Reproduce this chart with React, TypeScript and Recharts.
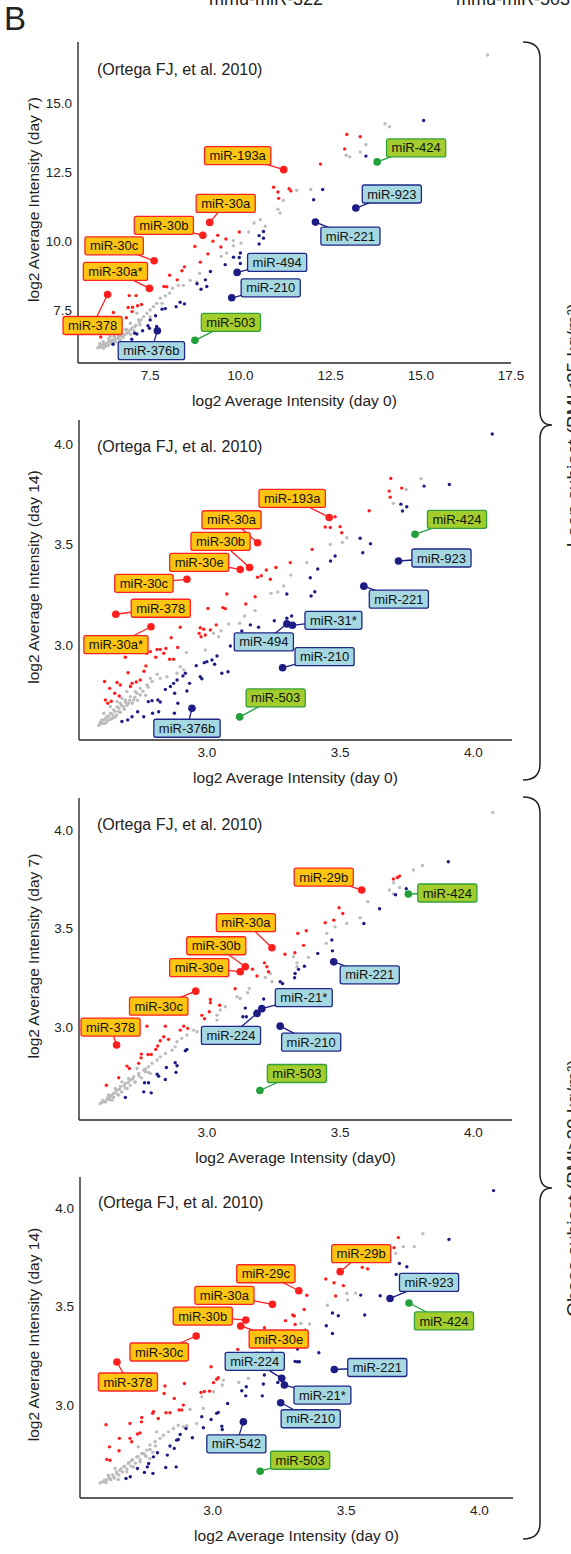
import React from 'react';
import { ScatterChart, Scatter, XAxis, YAxis, Label } from 'recharts';

const FONT = '"Liberation Sans", Arial, Helvetica, sans-serif';

type Pt = [number, number];
type Group = 'up' | 'down' | 'target';
type Marked = { name: string; x: number; y: number; group: Group };

// ---------- panel 1: day 7 vs day 0 (lean) ----------
const p1Grey: Pt[] = [
  [16.85, 16.73], [14.01, 14.24], [14.13, 14.13], [13.48, 13.48], [13.32, 13.22], [12.93, 13.1], [13.03, 13.04],
  [11.56, 11.83], [11.95, 11.86], [11.19, 11.46], [11.04, 11.15], [11.1, 11.01], [10.38, 10.65], [10.55, 10.77],
  [10.69, 10.53], [10.23, 10.32], [9.8, 10.01], [10.02, 9.92], [9.81, 9.82], [9.62, 9.56], [9.47, 9.44],
  [8.87, 8.83], [8.61, 8.57], [8.79, 8.51], [8.42, 8.39], [8.28, 8.39], [8.12, 8.29], [8.04, 8.11], [7.92, 8.01],
  [7.78, 7.93], [7.68, 7.74], [7.59, 7.62], [7.5, 7.5], [7.41, 7.38], [7.32, 7.26], [7.18, 7.14], [7.22, 6.96],
  [7.08, 6.9], [6.95, 6.78], [6.85, 6.66], [6.76, 6.6], [6.62, 6.54], [6.53, 6.48], [6.44, 6.41], [6.35, 6.35],
  [6.25, 6.27], [6.16, 6.2], [6.07, 6.15], [6.21, 6.11], [6.35, 6.23], [6.48, 6.29], [6.67, 6.41], [7.13, 7.38],
  [7.5, 7.26], [7.83, 7.74], [6.81, 6.78], [6.11, 6.29], [6.39, 6.54], [6.58, 6.66], [6.95, 7.02],
  [6.05, 6.13], [6.1, 6.2], [6.15, 6.15], [6.2, 6.25], [6.25, 6.18], [6.3, 6.3], [6.3, 6.2], [6.4, 6.35],
  [6.45, 6.28], [6.5, 6.4], [6.55, 6.35], [6.6, 6.48], [6.65, 6.42], [6.7, 6.55], [6.75, 6.5], [6.8, 6.6],
  [6.9, 6.7], [6.95, 6.62], [7.0, 6.85], [7.05, 6.75], [7.1, 6.95], [7.2, 7.05], [7.25, 7.15], [6.2, 6.35],
  [6.35, 6.45], [6.5, 6.55], [6.65, 6.6], [6.85, 6.8],
];
const p1Up: Pt[] = [
  [12.95, 13.85], [13.32, 13.77], [12.89, 13.33], [12.22, 12.78], [10.92, 11.94], [11.04, 11.77], [11.35, 11.89],
  [11.4, 11.81], [11.06, 11.54], [9.97, 10.32], [9.37, 10.2], [9.6, 10.07], [9.24, 9.99], [8.74, 9.8], [9.46, 9.78],
  [9.1, 9.53], [8.89, 9.23], [8.45, 9.06], [8.38, 8.92], [8.04, 8.76], [8.25, 8.59], [7.88, 8.35], [7.96, 8.34],
  [6.92, 8.02], [7.11, 8.02], [6.89, 7.59], [7.01, 7.6], [7.15, 7.65], [7.26, 7.7], [7.0, 7.44], [6.84, 7.22],
  [6.48, 7.41], [6.13, 6.52],
];
const p1Down: Pt[] = [
  [15.08, 14.36], [13.48, 13.07], [12.28, 11.86], [12.03, 11.49], [10.64, 10.34], [10.52, 10.19], [10.64, 10.1],
  [10.52, 9.89], [10.0, 9.56], [9.97, 9.4], [9.81, 9.41], [10.0, 9.18], [9.58, 9.14], [9.17, 8.89], [9.03, 8.59],
  [8.8, 8.45], [9.07, 8.35], [8.91, 8.25], [8.45, 7.72], [8.33, 7.78], [8.22, 7.62], [7.92, 7.55], [7.83, 7.53],
  [7.65, 7.29], [7.5, 7.14], [7.44, 6.93], [7.48, 6.84], [7.29, 6.75], [7.13, 6.63], [7.07, 6.66], [6.99, 6.44],
  [6.47, 6.26], [7.68, 6.9],
];
const p1Marked: Marked[] = [
  { name: 'miR-193a', x: 11.2, y: 12.58, group: 'up' },
  { name: 'miR-30a', x: 9.15, y: 10.67, group: 'up' },
  { name: 'miR-30b', x: 8.96, y: 10.2, group: 'up' },
  { name: 'miR-30c', x: 7.61, y: 9.28, group: 'up' },
  { name: 'miR-30a*', x: 7.48, y: 8.28, group: 'up' },
  { name: 'miR-378', x: 6.32, y: 8.06, group: 'up' },
  { name: 'miR-376b', x: 7.7, y: 6.75, group: 'down' },
  { name: 'miR-210', x: 9.76, y: 7.94, group: 'down' },
  { name: 'miR-494', x: 9.91, y: 8.86, group: 'down' },
  { name: 'miR-221', x: 12.08, y: 10.68, group: 'down' },
  { name: 'miR-923', x: 13.2, y: 11.19, group: 'down' },
  { name: 'miR-503', x: 8.74, y: 6.4, group: 'target' },
  { name: 'miR-424', x: 13.79, y: 12.86, group: 'target' },
];

// ---------- panel 2: day 14 vs day 0 (lean) ----------
const p2Grey: Pt[] = [
  [3.804, 3.828], [3.748, 3.774], [3.7, 3.705], [3.525, 3.534], [3.509, 3.511], [3.463, 3.501], [3.375, 3.41],
  [3.315, 3.348], [3.288, 3.294], [3.266, 3.264], [3.241, 3.257], [3.181, 3.171], [3.141, 3.144], [3.123, 3.108],
  [3.081, 3.105], [3.053, 3.071], [3.044, 3.041], [3.025, 3.058], [2.923, 2.962], [2.994, 2.975], [2.913, 2.876],
  [2.888, 2.859], [2.85, 2.842], [2.813, 2.854], [2.794, 2.818], [2.775, 2.801], [2.75, 2.784], [2.731, 2.768],
  [2.713, 2.743], [2.694, 2.726], [2.675, 2.71], [2.663, 2.693], [2.65, 2.677], [2.638, 2.66], [2.625, 2.643],
  [2.613, 2.627], [2.6, 2.607], [2.594, 2.6], [2.619, 2.61], [2.644, 2.635], [2.669, 2.668], [2.688, 2.693],
  [2.706, 2.71], [2.725, 2.726], [2.75, 2.751], [2.638, 2.693], [2.663, 2.718], [2.681, 2.735], [2.7, 2.768],
  [2.613, 2.66], [2.631, 2.627], [2.656, 2.643], [2.738, 2.76], [2.788, 2.834], [2.825, 2.834], [2.9, 2.892],
  [2.6, 2.615], [2.605, 2.625], [2.61, 2.61], [2.62, 2.635], [2.625, 2.62], [2.63, 2.645], [2.64, 2.63],
  [2.645, 2.655], [2.65, 2.64], [2.655, 2.67], [2.66, 2.65], [2.67, 2.685], [2.675, 2.665], [2.68, 2.7],
  [2.69, 2.68], [2.695, 2.715], [2.7, 2.7], [2.71, 2.725], [2.72, 2.71], [2.73, 2.74], [2.74, 2.725],
  [2.76, 2.77], [2.77, 2.75], [2.78, 2.79],
];
const p2Up: Pt[] = [
  [3.69, 3.829], [3.731, 3.781], [3.684, 3.766], [3.688, 3.736], [3.609, 3.668], [3.481, 3.638], [3.444, 3.587],
  [3.463, 3.585], [3.5, 3.589], [3.506, 3.559], [3.395, 3.476], [3.313, 3.41], [3.259, 3.386], [3.223, 3.373],
  [3.204, 3.345], [3.19, 3.337], [3.238, 3.327], [3.181, 3.24], [3.075, 3.254], [3.06, 3.186], [3.069, 3.181],
  [3.004, 3.182], [3.146, 3.204], [2.9, 3.088], [2.975, 3.086], [2.988, 3.078], [2.971, 3.058], [2.978, 3.041],
  [2.994, 3.05], [3.013, 3.075], [3.035, 3.1], [2.866, 3.036], [2.89, 2.988], [2.846, 2.983], [2.838, 2.959],
  [2.813, 2.978], [2.825, 2.978], [2.86, 2.929], [2.875, 2.929], [2.808, 2.939], [2.788, 2.967], [2.775, 2.959],
  [2.694, 2.939], [2.771, 2.896], [2.764, 2.869], [2.704, 2.862], [2.75, 2.826], [2.735, 2.816], [2.719, 2.809],
  [2.713, 2.793], [2.663, 2.813], [2.675, 2.801], [2.616, 2.818], [2.654, 2.76], [2.635, 2.784], [2.671, 2.746],
  [2.641, 2.72], [2.628, 2.71], [2.619, 2.726],
];
const p2Down: Pt[] = [
  [4.071, 4.05], [3.91, 3.799], [3.815, 3.791], [3.728, 3.701], [3.75, 3.688], [3.734, 3.667], [3.575, 3.531],
  [3.614, 3.504], [3.585, 3.459], [3.481, 3.443], [3.464, 3.418], [3.416, 3.378], [3.388, 3.335], [3.405, 3.265],
  [3.391, 3.244], [3.3, 3.254], [3.318, 3.144], [3.253, 3.121], [3.3, 3.133], [3.194, 3.088], [3.163, 3.1],
  [3.131, 3.07], [3.154, 3.036], [3.088, 2.995], [3.038, 2.945], [3.019, 2.925], [3.0, 2.917], [2.99, 2.912],
  [3.029, 2.904], [2.96, 2.897], [2.975, 2.842], [2.981, 2.832], [3.079, 2.867], [3.056, 2.859], [2.919, 2.859],
  [2.91, 2.846], [2.888, 2.826], [2.875, 2.809], [2.863, 2.793], [2.844, 2.779], [2.879, 2.76], [2.925, 2.771],
  [2.935, 2.809], [2.891, 2.71], [2.816, 2.726], [2.825, 2.716], [2.794, 2.723], [2.78, 2.718], [2.74, 2.668],
  [2.763, 2.643], [2.796, 2.66], [2.819, 2.668], [2.878, 2.66], [2.719, 2.643], [2.703, 2.627], [2.681, 2.619],
];
const p2Marked: Marked[] = [
  { name: 'miR-193a', x: 3.459, y: 3.635, group: 'up' },
  { name: 'miR-30a', x: 3.19, y: 3.509, group: 'up' },
  { name: 'miR-30b', x: 3.16, y: 3.386, group: 'up' },
  { name: 'miR-30e', x: 3.125, y: 3.376, group: 'up' },
  { name: 'miR-30c', x: 2.925, y: 3.327, group: 'up' },
  { name: 'miR-378', x: 2.658, y: 3.153, group: 'up' },
  { name: 'miR-30a*', x: 2.79, y: 3.091, group: 'up' },
  { name: 'miR-376b', x: 2.944, y: 2.685, group: 'down' },
  { name: 'miR-494', x: 3.3, y: 3.105, group: 'down' },
  { name: 'miR-31*', x: 3.321, y: 3.098, group: 'down' },
  { name: 'miR-210', x: 3.284, y: 2.887, group: 'down' },
  { name: 'miR-221', x: 3.589, y: 3.293, group: 'down' },
  { name: 'miR-923', x: 3.719, y: 3.418, group: 'down' },
  { name: 'miR-503', x: 3.123, y: 2.642, group: 'target' },
  { name: 'miR-424', x: 3.781, y: 3.551, group: 'target' },
];

// ---------- panel 3: day 7 vs day 0 (obese) ----------
const p3Grey: Pt[] = [
  [4.073, 4.09], [3.809, 3.82], [3.775, 3.797], [3.701, 3.732], [3.685, 3.695], [3.7, 3.675], [3.723, 3.708],
  [3.604, 3.636], [3.575, 3.554], [3.525, 3.525], [3.481, 3.508], [3.45, 3.475], [3.448, 3.424], [3.381, 3.353],
  [3.338, 3.325], [3.338, 3.305], [3.325, 3.356], [3.238, 3.271], [3.244, 3.229], [3.219, 3.251], [3.159, 3.195],
  [3.153, 3.173], [3.113, 3.153], [3.125, 3.144], [3.069, 3.102], [3.05, 3.085], [3.038, 3.059], [3.038, 3.034],
  [2.963, 2.975], [2.95, 2.983], [2.925, 2.958], [2.906, 2.941], [2.888, 2.924], [2.881, 2.898], [2.869, 2.881],
  [2.844, 2.864], [2.825, 2.847], [2.813, 2.831], [2.794, 2.814], [2.781, 2.797], [2.763, 2.78], [2.744, 2.763],
  [2.725, 2.746], [2.713, 2.729], [2.694, 2.712], [2.675, 2.695], [2.663, 2.678], [2.65, 2.661], [2.638, 2.644],
  [2.625, 2.631], [2.613, 2.619], [2.6, 2.61], [2.631, 2.653], [2.656, 2.686], [2.681, 2.72], [2.706, 2.737],
  [2.738, 2.788], [2.769, 2.771], [2.788, 2.763], [2.731, 2.72], [2.7, 2.686], [2.669, 2.653], [2.644, 2.627],
  [2.605, 2.615], [2.61, 2.625], [2.62, 2.618], [2.628, 2.64], [2.635, 2.63], [2.642, 2.652], [2.65, 2.642],
  [2.658, 2.668], [2.665, 2.655], [2.672, 2.682], [2.68, 2.668], [2.688, 2.7], [2.695, 2.688], [2.705, 2.718],
  [2.712, 2.702], [2.722, 2.735], [2.73, 2.718], [2.745, 2.75], [2.755, 2.74], [2.77, 2.785], [2.78, 2.768],
];
const p3Up: Pt[] = [
  [3.7, 3.751], [3.715, 3.759], [3.723, 3.766], [3.496, 3.605], [3.51, 3.576], [3.444, 3.529], [3.476, 3.542],
  [3.341, 3.475], [3.373, 3.488], [3.363, 3.414], [3.293, 3.369], [3.33, 3.376], [3.216, 3.325], [3.225, 3.305],
  [3.231, 3.28], [3.171, 3.293], [3.188, 3.258], [3.106, 3.193], [3.013, 3.139], [3.013, 3.122], [3.048, 3.11],
  [3.009, 3.076], [2.981, 3.058], [2.991, 3.041], [2.913, 3.003], [2.928, 2.992], [2.9, 2.983], [2.844, 3.003],
  [2.775, 3.003], [2.838, 2.949], [2.856, 2.936], [2.825, 2.929], [2.815, 2.902], [2.808, 2.885], [2.791, 2.859],
  [2.754, 2.861], [2.753, 2.842], [2.779, 2.859], [2.744, 2.814], [2.7, 2.8], [2.709, 2.788], [2.669, 2.741],
  [2.623, 2.703],
];
const p3Down: Pt[] = [
  [3.906, 3.839], [3.748, 3.702], [3.708, 3.671], [3.648, 3.6], [3.589, 3.525], [3.469, 3.441], [3.471, 3.386],
  [3.416, 3.373], [3.366, 3.308], [3.344, 3.292], [3.331, 3.271], [3.329, 3.249], [3.284, 3.22], [3.275, 3.229],
  [3.213, 3.141], [3.144, 3.095], [3.135, 3.051], [3.148, 3.051], [2.925, 2.885], [2.919, 2.878], [2.881, 2.817],
  [2.888, 2.802], [2.848, 2.793], [2.844, 2.732], [2.813, 2.759], [2.819, 2.749], [2.884, 2.768], [2.766, 2.715],
  [2.781, 2.715], [2.763, 2.669], [2.791, 2.664], [2.694, 2.641],
];
const p3Marked: Marked[] = [
  { name: 'miR-29b', x: 3.581, y: 3.695, group: 'up' },
  { name: 'miR-30a', x: 3.244, y: 3.402, group: 'up' },
  { name: 'miR-30b', x: 3.144, y: 3.305, group: 'up' },
  { name: 'miR-30e', x: 3.125, y: 3.28, group: 'up' },
  { name: 'miR-30c', x: 2.958, y: 3.181, group: 'up' },
  { name: 'miR-378', x: 2.661, y: 2.907, group: 'up' },
  { name: 'miR-221', x: 3.476, y: 3.33, group: 'down' },
  { name: 'miR-21*', x: 3.206, y: 3.092, group: 'down' },
  { name: 'miR-224', x: 3.188, y: 3.068, group: 'down' },
  { name: 'miR-210', x: 3.275, y: 3.003, group: 'down' },
  { name: 'miR-424', x: 3.756, y: 3.675, group: 'target' },
  { name: 'miR-503', x: 3.199, y: 2.676, group: 'target' },
];

// ---------- panel 4: day 14 vs day 0 (obese) ----------
const p4Grey: Pt[] = [
  [3.788, 3.871], [3.756, 3.805], [3.715, 3.805], [3.686, 3.771], [3.536, 3.569], [3.503, 3.568], [3.506, 3.534],
  [3.43, 3.507], [3.363, 3.412], [3.331, 3.415], [3.346, 3.385], [3.225, 3.278], [3.165, 3.268], [3.134, 3.136],
  [3.098, 3.115], [3.04, 3.127], [3.036, 3.102], [3.003, 3.068], [2.965, 2.983], [2.959, 3.042], [2.915, 2.978],
  [2.903, 2.895], [2.89, 2.89], [2.871, 2.898], [2.853, 2.881], [2.834, 2.864], [2.815, 2.847], [2.803, 2.831],
  [2.784, 2.814], [2.765, 2.797], [2.753, 2.771], [2.734, 2.754], [2.715, 2.737], [2.696, 2.72], [2.684, 2.703],
  [2.665, 2.686], [2.653, 2.669], [2.64, 2.653], [2.628, 2.636], [2.615, 2.627], [2.603, 2.619], [2.59, 2.61],
  [2.578, 2.605], [2.646, 2.622], [2.703, 2.686], [2.728, 2.712], [2.765, 2.729], [2.746, 2.746], [2.678, 2.661],
  [2.634, 2.678], [2.609, 2.644], [2.721, 2.788], [2.79, 2.864], [2.94, 2.907],
  [2.585, 2.61], [2.595, 2.62], [2.6, 2.606], [2.61, 2.632], [2.618, 2.62], [2.625, 2.645], [2.632, 2.63],
  [2.64, 2.66], [2.648, 2.645], [2.655, 2.675], [2.662, 2.66], [2.67, 2.69], [2.678, 2.675], [2.686, 2.708],
  [2.694, 2.69], [2.7, 2.722], [2.71, 2.705], [2.72, 2.738], [2.728, 2.722], [2.74, 2.755], [2.75, 2.74],
  [2.765, 2.775], [2.775, 2.76], [2.785, 2.792],
];
const p4Up: Pt[] = [
  [3.696, 3.851], [3.68, 3.8], [3.561, 3.7], [3.581, 3.692], [3.424, 3.641], [3.455, 3.622], [3.49, 3.607],
  [3.461, 3.554], [3.353, 3.558], [3.343, 3.486], [3.3, 3.458], [3.306, 3.453], [3.273, 3.429], [3.309, 3.41],
  [3.194, 3.393], [3.094, 3.283], [2.994, 3.195], [3.021, 3.139], [3.015, 3.131], [2.894, 3.11], [2.969, 3.069],
  [2.956, 3.064], [2.988, 3.071], [3.003, 3.114], [2.821, 3.097], [2.818, 3.059], [2.856, 3.034], [2.89, 3.0],
  [2.884, 2.975], [2.874, 2.975], [2.825, 2.961], [2.84, 2.961], [2.778, 2.966], [2.775, 2.958], [2.734, 2.937],
  [2.733, 2.915], [2.69, 2.907], [2.6, 2.9], [2.796, 2.932], [2.728, 2.859], [2.718, 2.853], [2.69, 2.831],
  [2.696, 2.814], [2.65, 2.831], [2.613, 2.788], [2.649, 2.768], [2.603, 2.724], [2.615, 2.72],
];
const p4Down: Pt[] = [
  [4.053, 4.09], [3.886, 3.842], [3.728, 3.703], [3.7, 3.72], [3.688, 3.664], [3.555, 3.559], [3.628, 3.556],
  [3.57, 3.458], [3.449, 3.468], [3.471, 3.454], [3.426, 3.403], [3.449, 3.364], [3.318, 3.285], [3.318, 3.22],
  [3.309, 3.222], [3.325, 3.22], [3.398, 3.266], [3.194, 3.153], [3.19, 3.107], [3.186, 3.047], [3.126, 3.093],
  [3.124, 3.047], [3.109, 3.073], [3.244, 3.115], [3.056, 3.008], [3.015, 2.958], [3.021, 2.963], [2.959, 2.941],
  [2.965, 2.885], [2.994, 2.927], [3.034, 2.893], [3.036, 2.876], [2.924, 2.834], [2.9, 2.881], [2.878, 2.851],
  [2.871, 2.825], [2.856, 2.78], [2.84, 2.792], [2.865, 2.822], [2.83, 2.746], [2.793, 2.758], [2.778, 2.737],
  [2.76, 2.703], [2.755, 2.686], [2.744, 2.658], [2.718, 2.678], [2.776, 2.653], [2.824, 2.683], [2.863, 2.686],
  [2.691, 2.636], [2.675, 2.627],
];
const p4Marked: Marked[] = [
  { name: 'miR-29b', x: 3.478, y: 3.678, group: 'up' },
  { name: 'miR-29c', x: 3.323, y: 3.581, group: 'up' },
  { name: 'miR-30a', x: 3.224, y: 3.512, group: 'up' },
  { name: 'miR-30b', x: 3.124, y: 3.432, group: 'up' },
  { name: 'miR-30e', x: 3.105, y: 3.402, group: 'up' },
  { name: 'miR-30c', x: 2.938, y: 3.351, group: 'up' },
  { name: 'miR-378', x: 2.641, y: 3.219, group: 'up' },
  { name: 'miR-923', x: 3.665, y: 3.542, group: 'down' },
  { name: 'miR-221', x: 3.456, y: 3.181, group: 'down' },
  { name: 'miR-224', x: 3.259, y: 3.136, group: 'down' },
  { name: 'miR-21*', x: 3.269, y: 3.102, group: 'down' },
  { name: 'miR-210', x: 3.255, y: 3.012, group: 'down' },
  { name: 'miR-542', x: 3.115, y: 2.915, group: 'down' },
  { name: 'miR-424', x: 3.736, y: 3.519, group: 'target' },
  { name: 'miR-503', x: 3.178, y: 2.664, group: 'target' },
];

// label box offsets from the point, in px (layout only)
const p1Offsets: Record<string, Pt> = {
  'miR-193a': [-46, -14], 'miR-30a': [16, -19], 'miR-30b': [-39, -10], 'miR-30c': [-40, -15],
  'miR-30a*': [-34, -17], 'miR-378': [-15, 31], 'miR-376b': [-6, 20], 'miR-503': [36, -18],
  'miR-210': [39, -10], 'miR-494': [40, -10], 'miR-221': [35, 14], 'miR-923': [36, -14], 'miR-424': [39, -14],
};
const p2Offsets: Record<string, Pt> = {
  'miR-193a': [-37, -19], 'miR-30a': [-26, -23], 'miR-30b': [-29, -26], 'miR-30e': [-41, -7],
  'miR-30c': [-43, 4], 'miR-378': [45, -6], 'miR-30a*': [-35, 18], 'miR-376b': [-5, 20], 'miR-503': [36, -19],
  'miR-494': [-23, 18], 'miR-31*': [41, -5], 'miR-210': [42, -11], 'miR-221': [35, 13], 'miR-923': [43, -3],
  'miR-424': [42, -15],
};
const p3Offsets: Record<string, Pt> = {
  'miR-29b': [-38, -13], 'miR-424': [39, -1], 'miR-30a': [-26, -25], 'miR-30b': [-29, -21],
  'miR-30e': [-41, -4], 'miR-30c': [-37, 15], 'miR-378': [-6, -18], 'miR-221': [36, 13], 'miR-21*': [42, -11],
  'miR-224': [-26, 22], 'miR-210': [31, 16], 'miR-503': [37, -17],
};
const p4Offsets: Record<string, Pt> = {
  'miR-29b': [21, -18], 'miR-29c': [-33, -17], 'miR-30a': [-48, -9], 'miR-30b': [-43, -4],
  'miR-30e': [38, 13], 'miR-30c': [-37, 16], 'miR-378': [11, 20], 'miR-923': [39, -16], 'miR-424': [35, 18],
  'miR-221': [43, -2], 'miR-224': [-27, -17], 'miR-21*': [38, 10], 'miR-210': [30, 16], 'miR-542': [-7, 22],
  'miR-503': [40, -11],
};

const DOT = { grey: '#bcbcbc', up: '#ff1e1e', down: '#1c1c84', target: '#21a03c' };
const BOX = {
  up: { fill: '#fdc512', stroke: '#ff2323' },
  down: { fill: '#a6d8e2', stroke: '#1f2787' },
  target: { fill: '#a2cd2c', stroke: '#34a039' },
};

let measureCtx: CanvasRenderingContext2D | null = null;
const textWidth = (s: string) => {
  if (!measureCtx) measureCtx = document.createElement('canvas').getContext('2d');
  if (!measureCtx) return s.length * 7.2;
  measureCtx.font = `13px ${FONT}`;
  return measureCtx.measureText(s).width;
};

const toPts = (arr: Pt[]) => arr.map(([x, y]) => ({ x, y }));

const smallDot = (color: string) => (props: any) => (
  <circle cx={props.cx} cy={props.cy} r={1.7} fill={color} />
);

const markedShape = (offsets: Record<string, Pt>) => (props: any) => {
  const { cx, cy, payload } = props;
  const [dx, dy] = offsets[payload.name] ?? [30, -15];
  const w = textWidth(payload.name) + 10;
  const h = 18;
  const bx = cx + dx;
  const by = cy + dy;
  const g = payload.group as Group;
  return (
    <g>
      <line x1={cx} y1={cy} x2={bx} y2={by} stroke={DOT[g]} strokeWidth={1.3} />
      <circle cx={cx} cy={cy} r={3.8} fill={DOT[g]} />
      <rect x={bx - w / 2} y={by - h / 2} width={w} height={h} rx={2} fill={BOX[g].fill} stroke={BOX[g].stroke} strokeWidth={1.3} />
      <text x={bx} y={by + 4.6} textAnchor="middle" fontSize={13} fontFamily={FONT} fill="#111">
        {payload.name}
      </text>
    </g>
  );
};

type PanelProps = {
  top: number;
  height: number;
  plotLeft: number;
  right: number;
  marginTop: number;
  xDomain: [number, number];
  yDomain: [number, number];
  xTicks: number[];
  yTicks: number[];
  xLabel: string;
  yLabel: string;
  grey: Pt[];
  up: Pt[];
  down: Pt[];
  marked: Marked[];
  offsets: Record<string, Pt>;
};

const tickStyle = { fill: '#222', fontSize: 13.5, fontFamily: FONT };
const axisLine = { stroke: '#2a2a2a', strokeWidth: 1.4 };

function Panel(p: PanelProps) {
  return (
    <div style={{ position: 'absolute', left: 0, top: p.top }}>
      <ScatterChart width={571} height={p.height} margin={{ top: p.marginTop, right: p.right, bottom: 0, left: 0 }}>
        <XAxis
          type="number"
          dataKey="x"
          domain={p.xDomain}
          ticks={p.xTicks}
          tickFormatter={(v: number) => v.toFixed(1)}
          height={50}
          tickLine={false}
          tickSize={5}
          tickMargin={2}
          axisLine={axisLine}
          tick={tickStyle}
        >
          <Label
            content={(lp: any) => (
              <text
                x={lp.viewBox.x + lp.viewBox.width / 2}
                y={lp.viewBox.y + 43}
                textAnchor="middle"
                fontSize={15.5}
                fontFamily={FONT}
                fill="#222"
              >
                {p.xLabel}
              </text>
            )}
          />
        </XAxis>
        <YAxis
          type="number"
          dataKey="y"
          domain={p.yDomain}
          ticks={p.yTicks}
          tickFormatter={(v: number) => v.toFixed(1)}
          width={p.plotLeft}
          tickLine={false}
          tickSize={4}
          tickMargin={2}
          axisLine={axisLine}
          tick={tickStyle}
        >
          <Label
            content={(lp: any) => {
              const x = lp.viewBox.x + 33;
              const y = lp.viewBox.y + lp.viewBox.height / 2 - 3;
              return (
                <text
                  x={x}
                  y={y}
                  transform={`rotate(-90 ${x} ${y})`}
                  textAnchor="middle"
                  dominantBaseline="central"
                  fontSize={15.5}
                  fontFamily={FONT}
                  fill="#222"
                >
                  {p.yLabel}
                </text>
              );
            }}
          />
        </YAxis>
        <Scatter data={toPts(p.grey)} shape={smallDot(DOT.grey)} isAnimationActive={false} />
        <Scatter data={toPts(p.down)} shape={smallDot(DOT.down)} isAnimationActive={false} />
        <Scatter data={toPts(p.up)} shape={smallDot(DOT.up)} isAnimationActive={false} />
        <Scatter data={p.marked} shape={markedShape(p.offsets)} isAnimationActive={false} />
      </ScatterChart>
    </div>
  );
}

const xLabel0 = 'log2 Average Intensity (day 0)';
const ticks1X = [7.5, 10, 12.5, 15, 17.5];
const ticks1Y = [7.5, 10, 12.5, 15];
const ticksSmall = [3.0, 3.5, 4.0];

export default function App() {
  const refText = { fontSize: 16, fontFamily: FONT, fill: '#222' };
  return (
    <div style={{ position: 'absolute', left: 0, top: 0, width: 571, height: 1554, background: '#fff', overflow: 'hidden' }}>
      <Panel
        top={30} height={383} plotLeft={78} right={60} marginTop={12}
        xDomain={[5.5, 17.5]} yDomain={[5.58, 17.2]} xTicks={ticks1X} yTicks={ticks1Y}
        xLabel={xLabel0} yLabel="log2 Average Intensity (day 7)"
        grey={p1Grey} up={p1Up} down={p1Down} marked={p1Marked} offsets={p1Offsets}
      />
      <Panel
        top={410} height={380} plotLeft={79} right={59} marginTop={10}
        xDomain={[2.52, 4.145]} yDomain={[2.527, 4.12]} xTicks={ticksSmall} yTicks={ticksSmall}
        xLabel={xLabel0} yLabel="log2 Average Intensity (day 14)"
        grey={p2Grey} up={p2Up} down={p2Down} marked={p2Marked} offsets={p2Offsets}
      />
      <Panel
        top={788} height={382} plotLeft={79} right={59} marginTop={10}
        xDomain={[2.52, 4.145]} yDomain={[2.526, 4.163]} xTicks={ticksSmall} yTicks={ticksSmall}
        xLabel="log2 Average Intensity (day0)" yLabel="log2 Average Intensity (day 7)"
        grey={p3Grey} up={p3Up} down={p3Down} marked={p3Marked} offsets={p3Offsets}
      />
      <Panel
        top={1167} height={381} plotLeft={80} right={58} marginTop={10}
        xDomain={[2.5025, 4.126]} yDomain={[2.528, 4.159]} xTicks={ticksSmall} yTicks={ticksSmall}
        xLabel={xLabel0} yLabel="log2 Average Intensity (day 14)"
        grey={p4Grey} up={p4Up} down={p4Down} marked={p4Marked} offsets={p4Offsets}
      />
      <svg width={571} height={1554} style={{ position: 'absolute', left: 0, top: 0, pointerEvents: 'none' }}>
        <text x={4} y={30} fontSize={33} fontFamily={FONT} fill="#222">B</text>
        <text x={266} y={5} textAnchor="middle" fontSize={18} fontFamily={FONT} fill="#222">mmu-miR-322</text>
        <text x={456} y={5} fontSize={18} fontFamily={FONT} fill="#222">mmu-miR-503</text>
        <text x={97} y={75} {...refText}>(Ortega FJ, et al. 2010)</text>
        <text x={97} y={452} {...refText}>(Ortega FJ, et al. 2010)</text>
        <text x={97} y={830} {...refText}>(Ortega FJ, et al. 2010)</text>
        <text x={98} y={1208} {...refText}>(Ortega FJ, et al. 2010)</text>
        <path
          d="M523,42 Q540,42 540,58 L540,411 Q540,425 552,425 Q540,425 540,439 L540,764 Q540,780 523,780"
          fill="none" stroke="#222" strokeWidth={1.5}
        />
        <path
          d="M523,797 Q540,797 540,813 L540,1174 Q540,1188 552,1188 Q540,1188 540,1202 L540,1523 Q540,1539 523,1539"
          fill="none" stroke="#222" strokeWidth={1.5}
        />
        <text x={580} y={425} transform="rotate(-90 580 425)" textAnchor="middle" fontSize={19} fontFamily={FONT} fill="#222">
          Lean subject (BMI&lt;25 kg/m²)
        </text>
        <text x={580} y={1188} transform="rotate(-90 580 1188)" textAnchor="middle" fontSize={19} fontFamily={FONT} fill="#222">
          Obese subject (BMI≥30 kg/m²)
        </text>
      </svg>
    </div>
  );
}
